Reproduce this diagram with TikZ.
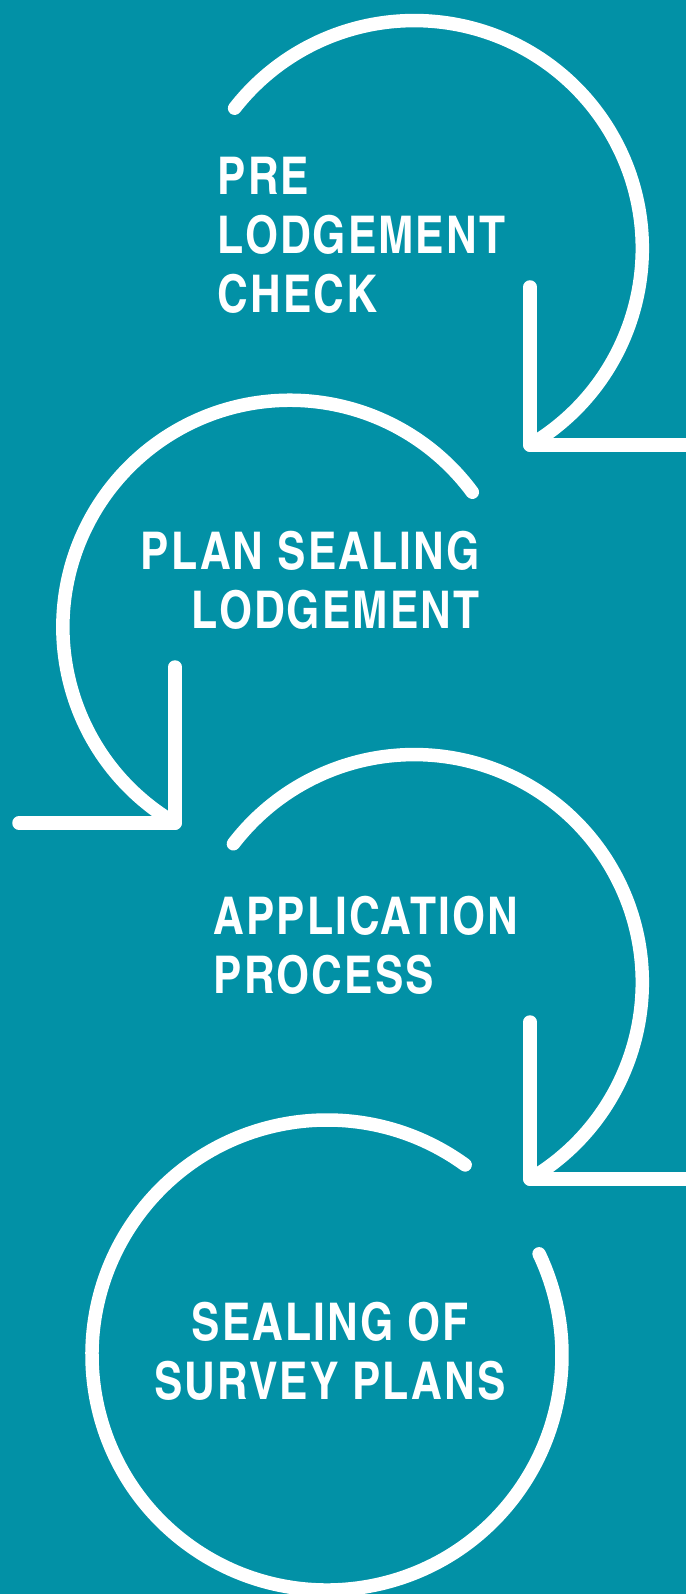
\documentclass[tikz,border=0pt]{standalone}
\usepackage{fontspec}
\usepackage{tikz}
\newfontfamily\cnfont[LetterSpace=3.8]{texgyreheroscn-bold.otf}
\definecolor{tealbg}{RGB}{2,145,166}

\begin{document}
\begin{tikzpicture}[x=1pt,y=1pt,line width=13.5pt,line cap=round,line join=round,white]
\tikzstyle{every node}=[inner sep=0pt,text=white,font=\cnfont\fontsize{52}{59}\selectfont]
\useasboundingbox (0,0) rectangle (686,-1594);
\fill[tealbg] (0,0) rectangle (686,-1594);

  \coordinate (c1) at (530,-445);
  \coordinate (c2) at (175,-823);
  \coordinate (c3) at (530,-1179);

  \node[anchor=north west,align=left] (pre) at (211,-150) {PRE\\LODGEMENT\\CHECK};
  \node[anchor=north east,align=right] (plan) at (486,-524) {PLAN SEALING\\LODGEMENT};
  \node[anchor=north west,align=left] (app) at (207,-889) {APPLICATION\\PROCESS};
  \node[anchor=north,align=center] (seal) at (330,-1295) {SEALING OF\\SURVEY PLANS};

  \draw (c1) arc[start angle=-59.5,end angle=142,radius=228];
  \draw (c1)++(0,158) -- (c1) -- ++(170,0);

  \draw (c2) arc[start angle=239.6,end angle=36.5,radius=227];
  \draw (c2)++(0,156) -- (c2) -- ++(-156,0);

  \draw (c3) arc[start angle=-59.5,end angle=142.5,radius=228];
  \draw (c3)++(0,157) -- (c3) -- ++(170,0);

  \draw (327,-1355) ++(54:235) arc[start angle=54,end angle=385.5,radius=235];
\end{tikzpicture}
\end{document}
